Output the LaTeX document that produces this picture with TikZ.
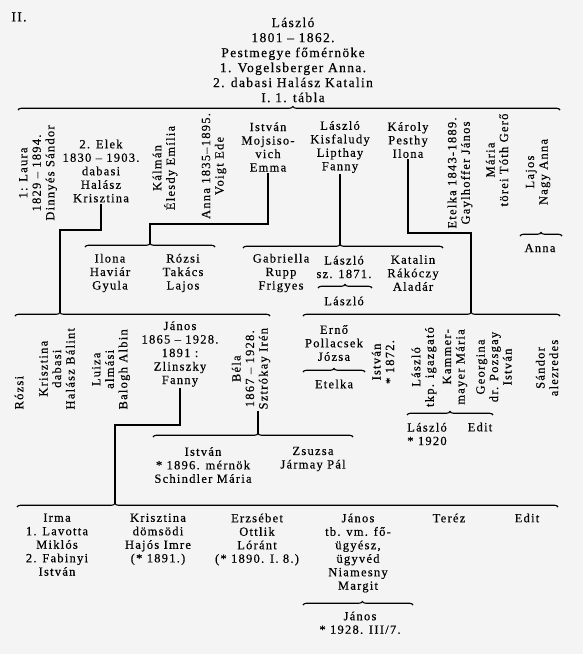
\documentclass[tikz,border=0pt]{standalone}
\usepackage{fontspec}
\setmainfont{Liberation Serif}[LetterSpace=10.0,FakeBold=0.3]
\usetikzlibrary{decorations.pathreplacing}
\definecolor{papir}{RGB}{244,244,244}
\newcommand\gen{\fontsize{12.5}{13.5}\selectfont}
\newcommand\cim{\fontsize{13.5}{15}\selectfont}
\tikzset{
  nev/.style={align=center,inner sep=1pt,font=\gen},
  fel/.style={nev,rotate=90},
  kapocs/.style={decorate,decoration={brace,amplitude=3.5pt,aspect=#1}},
  kapocs/.default=0.5
}

\begin{document}
\begin{tikzpicture}[x=1pt,y=-1pt,line width=1.1pt]
    \useasboundingbox[fill=papir] (0,0) rectangle (583,654);
    \node(ii) at (19,17) [font=\cim] {II.};
    \node(top) at (293,60) [align=center,font=\cim] {László\\1801 -- 1862.\\Pestmegye főmérnöke\\1. Vogelsberger Anna.\\2. dabasi Halász Katalin\\I. 1. tábla};
    \draw[kapocs=0.507] (18,110) -- (560,110);

    \node(laura)[fel] at (38,173) {1: Laura\\1829 -- 1894.\\Dinnyés Sándor};
    \node(elek)[nev] at (101,171) {2. Elek\\1830 -- 1903.\\dabasi\\Halász\\Krisztina};
    \node(kalman)[fel] at (165,168) {Kálmán\\Élesdy Emília};
    \node(anna)[fel] at (214,166) {Anna 1835--1895.\\Voigt Ede};
    \node(istvan)[nev] at (268,147) {István\\Mojsiso-\\vich\\Emma};
    \node(laszlo)[nev] at (340,147) {László\\Kisfaludy\\Lipthay\\Fanny};
    \node(karoly)[nev] at (408,140) {Károly\\Pesthy\\Ilona};
    \node(etelka)[fel] at (460,173) {Etelka 1843-1889.\\Gaylhoffer János};
    \node(maria)[fel] at (497,160) {Mária\\törei Tóth Gerő};
    \node(lajos)[fel] at (538,172) {Lajos\\Nagy Anna};

    \coordinate(e1) at (60,230);
    \coordinate(t3a) at (60,312.5);
    \coordinate(i1) at (150,224);
    \coordinate(t2a) at (150,243.5);
    \coordinate(t2b) at (340,244.5);
    \coordinate(k1) at (471,233);
    \coordinate(t3b) at (471,312.5);
    \draw (elek.south) |- (e1) -- (t3a);
    \draw (istvan.south) |- (i1) -- (t2a);
    \draw (laszlo.south) -- (t2b);
    \draw (karoly.south) |- (k1) -- (t3b);

    \draw[kapocs] (85,247) -- (215,247);
    \draw[kapocs=0.485] (243,248) -- (443,248);
    \draw[kapocs] (520,236) -- (562,236);
    \node(ilona)[nev] at (110,273) {Ilona\\Haviár\\Gyula};
    \node(rozsi)[nev] at (183,273) {Rózsi\\Takács\\Lajos};
    \node(gabriella)[nev] at (281,273) {Gabriella\\Rupp\\Frigyes};
    \node(laszlo2)[nev] at (344,267) {László\\sz. 1871.};
    \draw[kapocs] (318,288) -- (372,288);
    \node(laszlo2a)[nev] at (344,301) {László};
    \node(katalin)[nev] at (413,273) {Katalin\\Rákóczy\\Aladár};
    \node(anna2)[nev] at (540,248) {Anna};

    \draw[kapocs=0.176] (15,316) -- (270,316);
    \draw[kapocs=0.654] (303,316) -- (560,316);
    \node(rozsi3)[fel,anchor=west] at (19,411) {Rózsi};
    \node(krisztina)[fel,anchor=west] at (57,411) {Krisztina\\dabasi\\Halász Bálint};
    \node(luiza)[fel,anchor=west] at (111,411) {Luiza\\almási\\Balogh Albin};
    \node(janos)[nev] at (180,354) {János\\1865 -- 1928.\\1891 :\\Zlinszky\\Fanny};
    \node(bela)[fel,anchor=west] at (251,411) {Béla\\1867 -- 1928.\\Sztrókay Irén};
    \node(erno)[nev] at (334,343) {Ernő\\Pollacsek\\Józsa};
    \draw[kapocs] (303,372) -- (365,372);
    \node(etelka3)[nev] at (334,384) {Etelka};
    \node(istvan3)[fel] at (383,362) {István\\* 1872.};
    \node(laszlo3)[fel] at (424,367) {László\\tkp. igazgató};
    \node(kammer)[fel,align=right] at (455,367) {Kammer-\\mayer Mária};
    \node(georgina)[fel] at (494,367) {Georgina\\dr. Pozsgay\\István};
    \node(sandor)[fel] at (547,368) {Sándor\\alezredes};
    \draw[kapocs] (407,415) -- (493,415);
    \node(laszlo4)[nev] at (427,434) {László\\* 1920};
    \node(edit4)[nev] at (480,427) {Edit};

    \coordinate(j1) at (115,425);
    \coordinate(t4) at (115,503.5);
    \coordinate(t3c) at (258,433.5);
    \draw (janos.south) |- (j1) -- (t4);
    \draw (t3c |- bela.west) -- (t3c);
    \draw[kapocs=0.525] (153,437) -- (353,437);
    \node(istvan4)[nev] at (203,465) {István\\* 1896. mérnök\\Schindler Mária};
    \node(zsuzsa)[nev] at (313,459) {Zsuzsa\\Jármay Pál};

    \draw[kapocs=0.181] (17,507) -- (558,507);
    \node(irma)[nev,anchor=north] at (57,512) {Irma\\1. Lavotta\\Miklós\\2. Fabinyi\\István};
    \node(krisztina4)[nev,anchor=north] at (158,512) {Krisztina\\dömsödi\\Hajós Imre\\(* 1891.)};
    \node(erzsebet)[nev,anchor=north] at (257,512) {Erzsébet\\Ottlik\\Lóránt\\(* 1890. I. 8.)};
    \node(janos4)[nev,anchor=north] at (358,512) {János\\tb. vm. fő-\\ügyész,\\ügyvéd\\Niamesny\\Margit};
    \draw[kapocs=0.54] (303,605) -- (413,605);
    \node(janos5)[nev,anchor=north] at (360,610) {János\\* 1928. III/7.};
    \node(terez)[nev,anchor=north] at (449,512) {Teréz};
    \node(edit5)[nev,anchor=north] at (527,512) {Edit};
\end{tikzpicture}
\end{document}
